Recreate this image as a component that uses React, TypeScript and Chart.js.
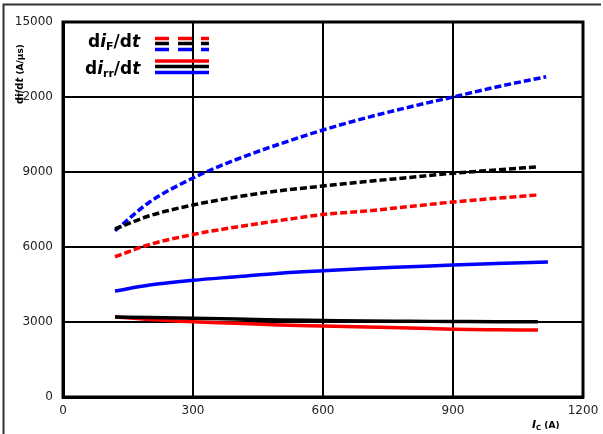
import React, { useEffect, useRef } from "react";
import { Chart, registerables } from "chart.js";
Chart.register(...registerables);

// Ic (A)
const xBlueF = [120, 200, 300, 400, 500, 600, 700, 800, 900, 1000, 1115];
const yBlueF = [6650, 7800, 8760, 9500, 10120, 10680, 11170, 11600, 12000, 12400, 12810];
const xBlackF = [120, 200, 300, 400, 500, 600, 700, 800, 900, 1000, 1096];
const yBlackF = [6720, 7250, 7680, 8000, 8250, 8440, 8620, 8780, 8950, 9080, 9210];
const xRedF = [120, 200, 300, 400, 500, 600, 700, 800, 900, 1000, 1096];
const yRedF = [5610, 6100, 6500, 6800, 7060, 7300, 7440, 7620, 7800, 7950, 8080];
const xBlueRR = [120, 200, 300, 400, 500, 600, 700, 800, 900, 1000, 1119];
const yBlueRR = [4240, 4480, 4670, 4810, 4950, 5050, 5140, 5210, 5280, 5340, 5400];
const xBlackRR = [120, 200, 300, 400, 500, 600, 700, 800, 900, 1000, 1096];
const yBlackRR = [3200, 3180, 3150, 3120, 3080, 3060, 3040, 3030, 3020, 3010, 3010];
const xRedRR = [120, 200, 300, 400, 500, 600, 700, 800, 900, 1000, 1096];
const yRedRR = [3210, 3100, 3010, 2950, 2880, 2840, 2800, 2760, 2710, 2690, 2680];

const xTicks = [0, 300, 600, 900, 1200];
const yTicks = [0, 3000, 6000, 9000, 12000, 15000];

const pts = (xs: number[], ys: number[]) => xs.map((x, i) => ({ x, y: ys[i] }));

type Seg = { t: string; font: string; dy?: number };
function drawRich(ctx: CanvasRenderingContext2D, x: number, y: number, segs: Seg[]) {
  let cx = x;
  for (const s of segs) {
    ctx.font = s.font;
    ctx.fillText(s.t, cx, y + (s.dy || 0));
    cx += ctx.measureText(s.t).width;
  }
}

const decorPlugin = {
  id: "decor",
  beforeDatasetsDraw(chart: any) {
    const { ctx, chartArea: a } = chart;
    ctx.save();
    ctx.strokeStyle = "#000";
    ctx.lineWidth = 3;
    ctx.strokeRect(a.left, a.top, a.right - a.left, a.bottom - a.top);
    ctx.restore();
  },
  afterDraw(chart: any) {
    const { ctx } = chart;
    ctx.save();
    // outer frame
    ctx.strokeStyle = "#333";
    ctx.lineWidth = 2;
    ctx.beginPath();
    ctx.moveTo(3.5, 434);
    ctx.lineTo(3.5, 4.5);
    ctx.lineTo(601, 4.5);
    ctx.stroke();

    ctx.fillStyle = "#000";
    ctx.textBaseline = "alphabetic";
    ctx.textAlign = "left";
    const B = "bold 17px 'DejaVu Sans'";
    const BI = "bold italic 17px 'DejaVu Sans'";
    const BS = "bold 11px 'DejaVu Sans'";
    drawRich(ctx, 88, 47, [
      { t: "d", font: B },
      { t: "i", font: BI },
      { t: "F", font: BS, dy: 3 },
      { t: "/d", font: B },
      { t: "t", font: BI },
    ]);
    drawRich(ctx, 85, 74, [
      { t: "d", font: B },
      { t: "i", font: BI },
      { t: "rr", font: BS, dy: 3 },
      { t: "/d", font: B },
      { t: "t", font: BI },
    ]);
    // legend samples
    const cols = ["#ff0000", "#000000", "#0000ff"];
    const dashY = [38.5, 43.5, 49.5];
    const solY = [61, 66.5, 72.5];
    ctx.lineWidth = 3.5;
    ctx.lineCap = "butt";
    cols.forEach((c, i) => {
      ctx.strokeStyle = c;
      ctx.setLineDash([14, 9]);
      ctx.beginPath();
      ctx.moveTo(155, dashY[i]);
      ctx.lineTo(209, dashY[i]);
      ctx.stroke();
      ctx.setLineDash([]);
      ctx.beginPath();
      ctx.moveTo(155, solY[i]);
      ctx.lineTo(209, solY[i]);
      ctx.stroke();
    });

    // y axis title
    ctx.save();
    ctx.translate(23, 74);
    ctx.rotate(-Math.PI / 2);
    ctx.textAlign = "left";
    const yt = [
      { t: "di/d", font: "bold 10px 'DejaVu Sans'" },
      { t: "t", font: "bold italic 10px 'DejaVu Sans'" },
      { t: " (A/µs)", font: "bold 9px 'DejaVu Sans'" },
    ];
    let w = 0;
    yt.forEach((s) => { ctx.font = s.font; w += ctx.measureText(s.t).width; });
    drawRich(ctx, -w / 2, 0, yt);
    ctx.restore();

    // x axis title
    drawRich(ctx, 532, 428, [
      { t: "I", font: "bold italic 11px 'DejaVu Sans'" },
      { t: "C", font: "bold 7px 'DejaVu Sans'", dy: 2 },
      { t: " (A)", font: "bold 9px 'DejaVu Sans'" },
    ]);
    ctx.restore();
  },
};

export default function App() {
  const ref = useRef<HTMLCanvasElement | null>(null);
  useEffect(() => {
    document.body.style.margin = "0";
    const dash = [7, 3];
    const common = { showLine: true, pointRadius: 0, fill: false, cubicInterpolationMode: "monotone" as const };
    const chart = new Chart(ref.current!, {
      type: "scatter",
      data: {
        datasets: [
          { label: "blackRR", data: pts(xBlackRR, yBlackRR), borderColor: "#000", ...common, borderWidth: 3.5 },
          { label: "redRR", data: pts(xRedRR, yRedRR), borderColor: "#ff0000", ...common, borderWidth: 3.5 },
          { label: "blueRR", data: pts(xBlueRR, yBlueRR), borderColor: "#0000ff", ...common, borderWidth: 3.5 },
          { label: "redF", data: pts(xRedF, yRedF), borderColor: "#ff0000", borderDash: dash, ...common, borderWidth: 3.5 },
          { label: "blackF", data: pts(xBlackF, yBlackF), borderColor: "#000", borderDash: dash, ...common, borderWidth: 3.5 },
          { label: "blueF", data: pts(xBlueF, yBlueF), borderColor: "#0000ff", borderDash: dash, ...common, borderWidth: 3.5 },
        ],
      },
      options: {
        animation: false,
        responsive: false,
        layout: { padding: { left: 0, right: 20, top: 22, bottom: 0 } },
        plugins: { legend: { display: false }, tooltip: { enabled: false } },
        scales: {
          x: {
            type: "linear",
            min: 0,
            max: 1200,
            afterBuildTicks: (s: any) => { s.ticks = xTicks.map((v) => ({ value: v })); },
            afterFit: (s: any) => { s.height = 37; s.paddingLeft = 0; s.paddingRight = 0; },
            grid: { color: "#000", lineWidth: 2, drawTicks: false },
            border: { color: "#000", width: 3 },
            ticks: { padding: 7, color: "#222", font: { family: "'DejaVu Sans'", size: 12 }, maxRotation: 0, callback: (v: any) => String(v) },
          },
          y: {
            type: "linear",
            min: 0,
            max: 15000,
            afterBuildTicks: (s: any) => { s.ticks = yTicks.map((v) => ({ value: v })); },
            afterFit: (s: any) => { s.width = 63; s.paddingTop = 0; s.paddingBottom = 0; },
            grid: { color: "#000", lineWidth: 2, drawTicks: false },
            border: { color: "#000", width: 3 },
            ticks: { padding: 10, color: "#222", font: { family: "'DejaVu Sans'", size: 12 }, callback: (v: any) => String(v) },
          },
        },
      },
      plugins: [decorPlugin],
    });
    return () => chart.destroy();
  }, []);
  return (
    <div style={{ width: 603, height: 434 }}>
      <canvas ref={ref} width={603} height={434} style={{ display: "block" }} />
    </div>
  );
}
